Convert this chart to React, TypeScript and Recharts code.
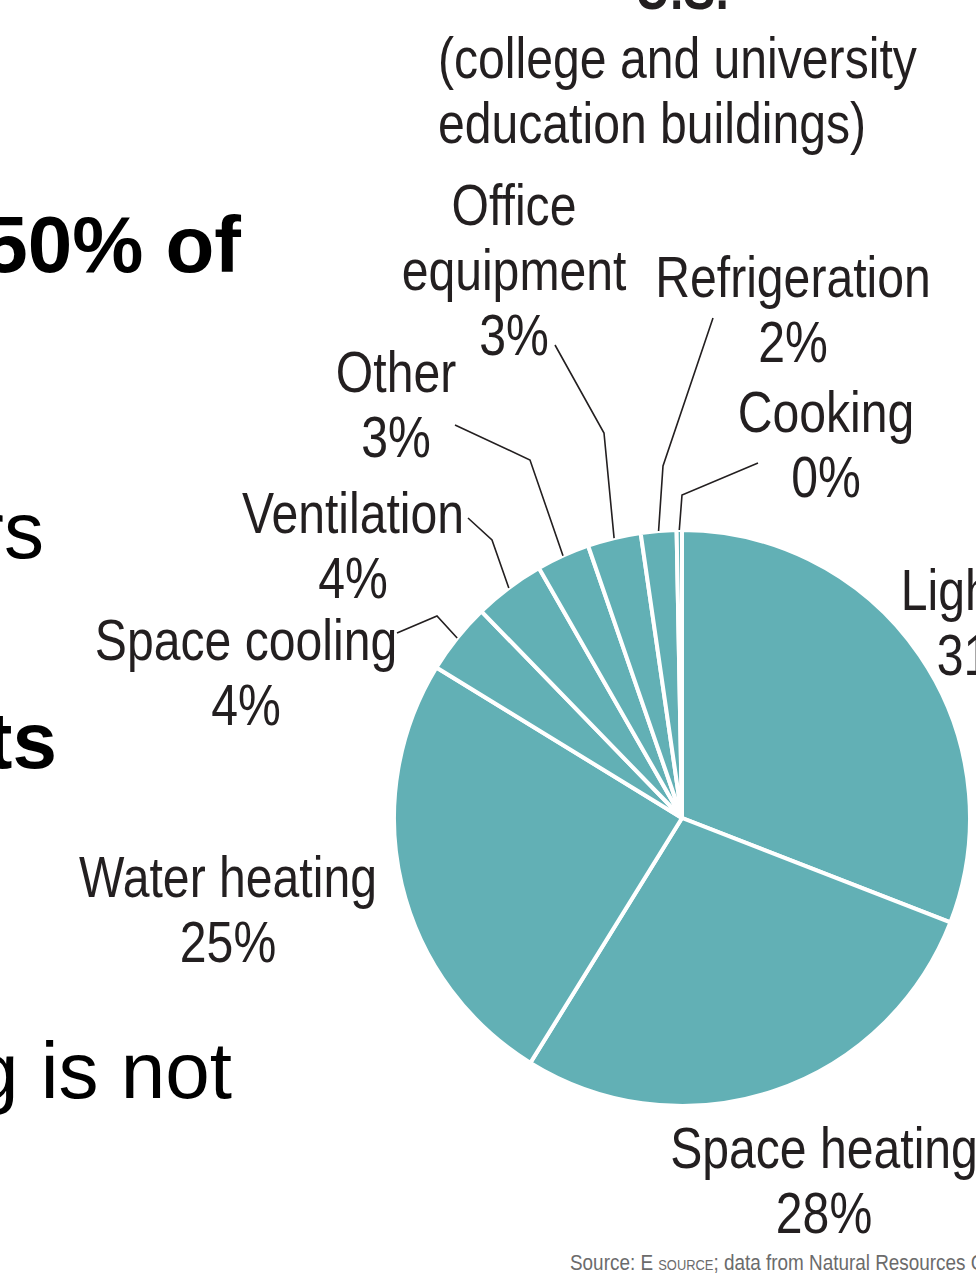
import { PieChart, Pie, Cell } from "recharts"

// End-use shares of energy, college and university buildings (%)
const uses = [
  "Lighting",
  "Space heating",
  "Water heating",
  "Space cooling",
  "Ventilation",
  "Other",
  "Office equipment",
  "Refrigeration",
  "Cooking",
]
const shares = [31, 28, 25, 4, 4, 3, 3, 2, 0.3]

const rows = uses.map((name, i) => ({ name, value: shares[i] }))

const TEAL = "#62b0b5"
const INK = "#231f20"
const SANS = "'Liberation Sans', Arial, sans-serif"
// Arial squeezed horizontally stands in for a condensed grotesque
const SQUEEZE = 0.83

type Pt = [number, number]
type Layout = { x: number; y: number; split?: boolean; elbow?: Pt; end?: Pt }

// label anchors and leader lines, offsets from the pie centre
const layout: Record<string, Layout> = {
  Lighting: { x: 303, y: -208 },
  "Space heating": { x: 142, y: 350 },
  "Water heating": { x: -454, y: 79 },
  "Space cooling": { x: -436, y: -158, elbow: [-245, -202], end: [-285, -185] },
  Ventilation: { x: -329, y: -285, elbow: [-190, -278], end: [-214, -300] },
  Other: { x: -286, y: -426, elbow: [-152, -358], end: [-227, -393] },
  "Office equipment": { x: -168, y: -593, split: true, elbow: [-78, -385], end: [-127, -473] },
  Refrigeration: { x: 111, y: -521, elbow: [-19, -352], end: [31, -500] },
  Cooking: { x: 144, y: -386, elbow: [0, -323], end: [76, -355] },
}

const RAD = Math.PI / 180
const LINE = 65

function CondText({ x, y, lines, size = 58, anchor = "middle", weight = "normal", fill = INK }: any) {
  return (
    <text
      transform={`translate(${x} ${y}) scale(${SQUEEZE} 1)`}
      textAnchor={anchor}
      fill={fill}
      fontFamily={SANS}
      fontSize={size}
      fontWeight={weight}
    >
      {lines.map((t: any, i: number) => (
        <tspan key={i} x={0} dy={i === 0 ? 0 : LINE}>
          {t}
        </tspan>
      ))}
    </text>
  )
}

function SliceLabel(props: any) {
  const { cx, cy, midAngle, outerRadius, name, value } = props
  const l = layout[name]
  if (!l) return null
  const lines = l.split ? name.split(" ") : [name]
  lines.push(`${Math.round(value)}%`)
  const sx = cx + outerRadius * Math.cos(-midAngle * RAD)
  const sy = cy + outerRadius * Math.sin(-midAngle * RAD)
  return (
    <g>
      {l.elbow && l.end && (
        <polyline
          points={`${sx},${sy} ${cx + l.elbow[0]},${cy + l.elbow[1]} ${cx + l.end[0]},${cy + l.end[1]}`}
          fill="none"
          stroke={INK}
          strokeWidth={1.6}
        />
      )}
      <CondText x={cx + l.x} y={cy + l.y} lines={lines} />
    </g>
  )
}

export default function App() {
  return (
    <div style={{ position: "absolute", left: 0, top: 0, width: 976, height: 1280, overflow: "hidden", background: "#fff" }}>
      <div style={{ position: "absolute", left: 0, top: 0 }}>
        <PieChart width={976} height={1280} margin={{ top: 0, right: 0, bottom: 0, left: 0 }}>
          <Pie
            data={rows}
            dataKey="value"
            nameKey="name"
            cx={682}
            cy={818}
            outerRadius={288}
            startAngle={90}
            endAngle={-270}
            stroke="#fff"
            strokeWidth={4}
            label={SliceLabel}
            labelLine={false}
            isAnimationActive={false}
          >
            {rows.map((r) => (
              <Cell key={r.name} fill={TEAL} />
            ))}
          </Pie>
        </PieChart>
      </div>
      <svg width={976} height={1280} style={{ position: "absolute", left: 0, top: 0, pointerEvents: "none" }}>
        <CondText x={682} y={9} lines={["U.S."]} weight="bold" />
        <CondText x={438} y={78} anchor="start" lines={["(college and university", "education buildings)"]} />
        <text
          transform={`translate(570 1270) scale(0.86 1)`}
          fontFamily={SANS}
          fontSize={22}
          fill="#6b6b6b"
        >
          Source: E <tspan fontSize={15}>SOURCE</tspan>; data from Natural Resources Canada
        </text>

        {/* slide text running in from the left */}
        <text x={241} y={272} textAnchor="end" fontFamily={SANS} fontWeight="bold" fontSize={80} fill="#000">
          50% of
        </text>
        <text x={44} y={558} textAnchor="end" fontFamily={SANS} fontSize={80} fill="#000">
          rs
        </text>
        <text x={57} y={768} textAnchor="end" fontFamily={SANS} fontWeight="bold" fontSize={80} fill="#000">
          ts
        </text>
        <text x={232} y={1098} textAnchor="end" fontFamily={SANS} fontSize={80} fill="#000">
          g is not
        </text>
      </svg>
    </div>
  )
}
